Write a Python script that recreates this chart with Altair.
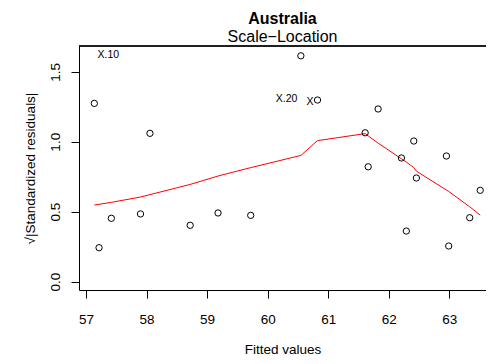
import altair as alt
import pandas as pd

fitted = [57.137, 57.215, 57.418, 57.90, 58.056, 58.72, 59.18, 59.72, 60.548, 60.823,
          61.61, 61.66, 61.824, 62.209, 62.29, 62.413, 62.456, 62.952, 62.99, 63.337, 63.51]
sqrt_resid = [1.274, 0.243, 0.453, 0.484, 1.060, 0.403, 0.491, 0.474, 1.614, 1.298,
              1.064, 0.821, 1.234, 0.884, 0.362, 1.005, 0.741, 0.898, 0.255, 0.457, 0.653]
smooth = [0.548, 0.553, 0.567, 0.605, 0.622, 0.695, 0.755, 0.815, 0.902, 1.008,
          1.058, 1.042, 0.99, 0.878, 0.855, 0.815, 0.79, 0.655, 0.645, 0.535, 0.476]

label_text = ["X.10", "X.20", "X"]
label_x = [57.368, 60.313, 60.70]
label_y = [1.619, 1.305, 1.286]

x_ticks = [57, 58, 59, 60, 61, 62, 63]
y_ticks = [0.0, 0.5, 1.0, 1.5]

df = pd.DataFrame({"fitted": fitted, "resid": sqrt_resid, "smooth": smooth})
lab = pd.DataFrame({"t": label_text, "x": label_x, "y": label_y})

FONT = "Liberation Sans"
W, H = 407, 244
xs = alt.Scale(domain=[56.884, 56.884 + W / 60.55], nice=False, zero=False)
ys = alt.Scale(domain=[-0.0593, 1.684], nice=False, zero=False)

xax = alt.Axis(values=x_ticks, title="Fitted values", grid=False, tickSize=8, format="d",
               labelPadding=14, titlePadding=17, labelFontSize=13.5, titleFontSize=13.5,
               labelFont=FONT, titleFont=FONT, titleFontWeight="normal",
               domainColor="black", tickColor="black", labelColor="black",
               titleColor="black", labelFlush=False)
yax = alt.Axis(values=y_ticks, title="√|Standardized residuals|", grid=False, tickSize=8,
               labelPadding=9, titlePadding=11, labelFontSize=13.5, titleFontSize=13.5,
               labelFont=FONT, titleFont=FONT, titleFontWeight="normal", format=".1f",
               labelAngle=270, labelAlign="center", labelBaseline="bottom",
               domainColor="black", tickColor="black", labelColor="black",
               titleColor="black", labelFlush=False)

points = alt.Chart(df).mark_point(shape="circle", filled=False, color="black",
                                  size=40, strokeWidth=1, opacity=1).encode(
    x=alt.X("fitted:Q", scale=xs, axis=xax),
    y=alt.Y("resid:Q", scale=ys, axis=yax),
)
line = alt.Chart(df).mark_line(color="red", strokeWidth=1).encode(
    x=alt.X("fitted:Q", scale=xs),
    y=alt.Y("smooth:Q", scale=ys),
)
texts = alt.Chart(lab).mark_text(fontSize=10.5, font=FONT, color="black").encode(
    x=alt.X("x:Q", scale=xs),
    y=alt.Y("y:Q", scale=ys),
    text="t:N",
)
top = alt.Chart(lab).mark_rule(color="black", strokeWidth=1).encode(
    x=alt.value(0), x2=alt.value(W), y=alt.value(0)
)

chart = alt.layer(top, line, points, texts).properties(
    width=W, height=H,
    title=alt.TitleParams(text="Australia", subtitle="Scale−Location", anchor="middle",
                          font=FONT, fontSize=16, fontWeight="bold", color="black",
                          subtitleFont=FONT, subtitleFontSize=16, subtitleColor="black",
                          subtitlePadding=2, offset=1),
    autosize=alt.AutoSizeParams(type="none"),
    padding={"left": 71, "top": 38, "right": 0, "bottom": 66},
).configure_view(stroke=None)

chart.save("out.html", embed_options={"renderer": "svg", "actions": False})
